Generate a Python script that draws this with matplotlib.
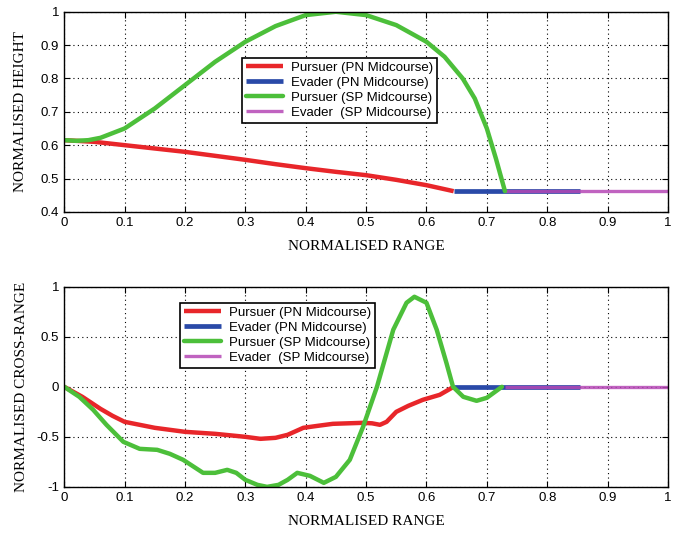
import matplotlib
matplotlib.use("Agg")
import matplotlib.pyplot as plt

# top panel: normalised height vs normalised range
top_pn_pursuer_x = [0, 0.05, 0.1, 0.15, 0.2, 0.25, 0.3, 0.35, 0.4, 0.45, 0.5, 0.55, 0.6, 0.625, 0.645]
top_pn_pursuer_y = [0.615, 0.61, 0.60, 0.59, 0.58, 0.568, 0.556, 0.543, 0.531, 0.52, 0.51, 0.496, 0.48, 0.47, 0.462]
top_sp_pursuer_x = [0, 0.02, 0.04, 0.06, 0.1, 0.15, 0.2, 0.25, 0.3, 0.35, 0.4, 0.45, 0.5, 0.55,
                    0.6, 0.63, 0.66, 0.68, 0.7, 0.715, 0.73]
top_sp_pursuer_y = [0.615, 0.613, 0.615, 0.622, 0.65, 0.71, 0.78, 0.85, 0.91, 0.957, 0.99, 1.0, 0.99, 0.96,
                    0.91, 0.865, 0.8, 0.74, 0.65, 0.56, 0.462]
top_pn_evader_x = [0.645, 0.855]
top_pn_evader_y = [0.462, 0.462]
top_sp_evader_x = [0.73, 1.0]
top_sp_evader_y = [0.462, 0.462]

# bottom panel: normalised cross-range vs normalised range
bot_pn_pursuer_x = [0, 0.03, 0.06, 0.08, 0.1, 0.15, 0.2, 0.25, 0.3, 0.325, 0.35, 0.37, 0.396, 0.42, 0.445,
                    0.47, 0.495, 0.51, 0.523, 0.534, 0.55, 0.57, 0.594, 0.622, 0.645]
bot_pn_pursuer_y = [0, -0.1, -0.22, -0.29, -0.35, -0.41, -0.45, -0.47, -0.5, -0.52, -0.51, -0.48, -0.41, -0.39, -0.37,
                    -0.365, -0.36, -0.365, -0.38, -0.35, -0.25, -0.19, -0.13, -0.08, 0]
bot_sp_pursuer_x = [0, 0.025, 0.048, 0.07, 0.098, 0.125, 0.154, 0.175, 0.197, 0.23, 0.25, 0.27, 0.285, 0.30,
                    0.32, 0.336, 0.355, 0.37, 0.386, 0.407, 0.43, 0.45, 0.473, 0.495, 0.518, 0.545,
                    0.567, 0.58, 0.60, 0.617, 0.633, 0.644, 0.661, 0.683, 0.70, 0.725]
bot_sp_pursuer_y = [0, -0.1, -0.23, -0.38, -0.55, -0.62, -0.63, -0.67, -0.73, -0.86, -0.86, -0.83, -0.86, -0.93,
                    -0.98, -1.0, -0.98, -0.93, -0.86, -0.89, -0.96, -0.9, -0.73, -0.4, 0.0, 0.57,
                    0.84, 0.9, 0.84, 0.57, 0.24, 0.0, -0.1, -0.14, -0.11, 0]
bot_pn_evader_x = [0.645, 0.855]
bot_pn_evader_y = [0, 0]
bot_sp_evader_x = [0.73, 1.0]
bot_sp_evader_y = [0, 0]

labels = ["Pursuer (PN Midcourse)", "Evader (PN Midcourse)",
          "Pursuer (SP Midcourse)", "Evader  (SP Midcourse)"]
colors = ["#e8262a", "#2a4aa8", "#4cbf3a", "#b548b5"]

tick_font = "Liberation Sans"
label_font = "Liberation Serif"

fig = plt.figure(figsize=(6.83, 5.35), dpi=100)
ax1 = fig.add_axes([0.094, 0.604, 0.884, 0.374])
ax2 = fig.add_axes([0.094, 0.090, 0.884, 0.374])


def draw(ax, series, legend_anchor):
    (pnp_x, pnp_y), (pne_x, pne_y), (spp_x, spp_y), (spe_x, spe_y) = series
    h1, = ax.plot(pnp_x, pnp_y, color=colors[0], lw=3.2, solid_capstyle="butt", solid_joinstyle="round")
    h2, = ax.plot(pne_x, pne_y, color=colors[1], lw=3.4, solid_capstyle="butt")
    h4, = ax.plot(spe_x, spe_y, color=colors[3], lw=2.4, solid_capstyle="butt", alpha=0.85)
    h3, = ax.plot(spp_x, spp_y, color=colors[2], lw=3.2, solid_capstyle="round", solid_joinstyle="round")
    ax.set_xlim(0, 1)
    ax.set_xticks([i / 10 for i in range(11)])
    ax.set_xticklabels(["0"] + ["0.%d" % i for i in range(1, 10)] + ["1"])
    ax.grid(True, color="black", linestyle=(0, (1, 3)), linewidth=0.8)
    ax.tick_params(direction="in", top=True, right=True, length=4, labelsize=9.5)
    for lab in ax.get_xticklabels() + ax.get_yticklabels():
        lab.set_family(tick_font)
    for sp in ax.spines.values():
        sp.set_linewidth(1.0)
    ax.set_xlabel("NORMALISED RANGE", family=label_font, fontsize=11, labelpad=8)
    leg = ax.legend([h1, h2, h3, h4], labels, loc="upper left", bbox_to_anchor=legend_anchor,
                    prop={"family": tick_font, "size": 9.5}, frameon=True, fancybox=False,
                    edgecolor="black", framealpha=1, handlelength=2.8, handletextpad=0.6,
                    labelspacing=0.2, borderpad=0.3, borderaxespad=0)
    leg.get_frame().set_linewidth(1.2)


draw(ax1, [(top_pn_pursuer_x, top_pn_pursuer_y), (top_pn_evader_x, top_pn_evader_y),
           (top_sp_pursuer_x, top_sp_pursuer_y), (top_sp_evader_x, top_sp_evader_y)],
     (0.295, 0.77))
ax1.set_ylim(0.4, 1.0)
ax1.set_yticks([0.4, 0.5, 0.6, 0.7, 0.8, 0.9, 1.0])
ax1.set_yticklabels(["0.4", "0.5", "0.6", "0.7", "0.8", "0.9", "1"], family=tick_font)
ax1.set_ylabel("NORMALISED HEIGHT", family=label_font, fontsize=11, labelpad=10)

draw(ax2, [(bot_pn_pursuer_x, bot_pn_pursuer_y), (bot_pn_evader_x, bot_pn_evader_y),
           (bot_sp_pursuer_x, bot_sp_pursuer_y), (bot_sp_evader_x, bot_sp_evader_y)],
     (0.192, 0.92))
ax2.set_ylim(-1, 1)
ax2.set_yticks([-1, -0.5, 0, 0.5, 1])
ax2.set_yticklabels(["-1", "-0.5", "0", "0.5", "1"], family=tick_font)
ax2.set_ylabel("NORMALISED CROSS-RANGE", family=label_font, fontsize=11, labelpad=6)

fig.savefig("out.png", dpi=100)
